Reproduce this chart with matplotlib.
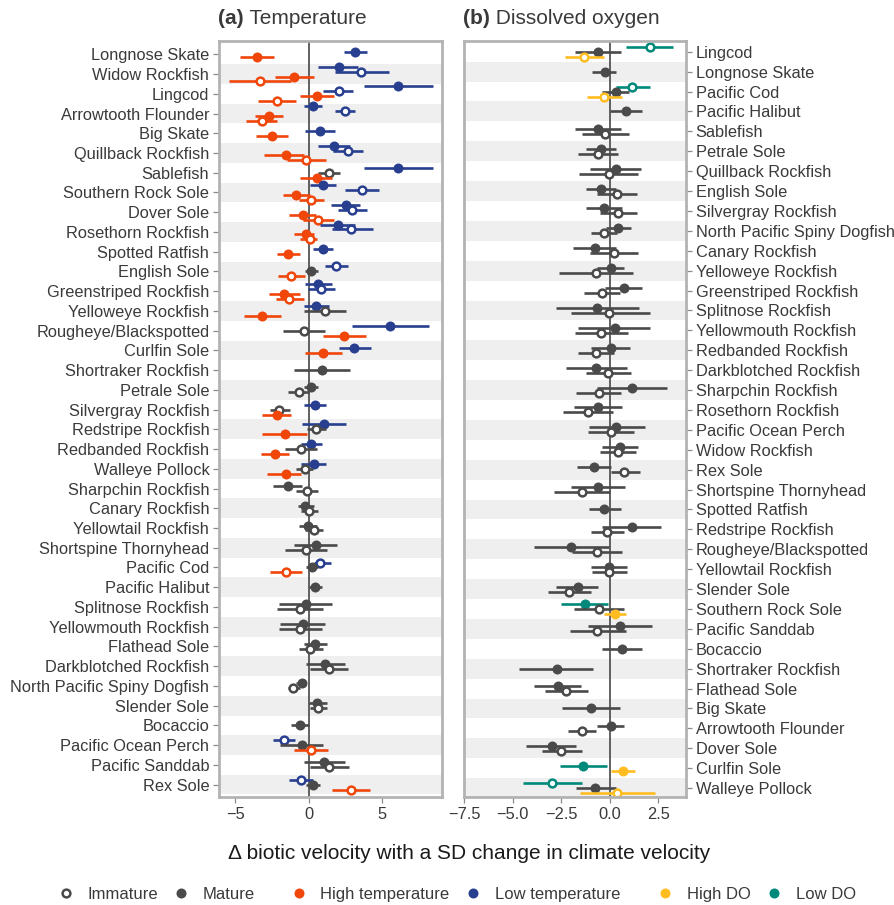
import matplotlib.pyplot as plt
from matplotlib.lines import Line2D

plt.rcParams['font.family'] = ['Liberation Sans', 'DejaVu Sans']

# colours
GREY = '#4a4a4a'
HIGH_T = '#f0460a'
LOW_T = '#283f8f'
HIGH_DO = '#ffbd21'
LOW_DO = '#00897b'
TEXT = '#3a3a3a'

# ---- (a) temperature: species order (top to bottom) ----
temp_species = ["Longnose Skate", "Widow Rockfish", "Lingcod", "Arrowtooth Flounder",
                "Big Skate", "Quillback Rockfish", "Sablefish", "Southern Rock Sole",
                "Dover Sole", "Rosethorn Rockfish", "Spotted Ratfish", "English Sole",
                "Greenstriped Rockfish", "Yelloweye Rockfish", "Rougheye/Blackspotted",
                "Curlfin Sole", "Shortraker Rockfish", "Petrale Sole", "Silvergray Rockfish",
                "Redstripe Rockfish", "Redbanded Rockfish", "Walleye Pollock",
                "Sharpchin Rockfish", "Canary Rockfish", "Yellowtail Rockfish",
                "Shortspine Thornyhead", "Pacific Cod", "Pacific Halibut",
                "Splitnose Rockfish", "Yellowmouth Rockfish", "Flathead Sole",
                "Darkblotched Rockfish", "North Pacific Spiny Dogfish", "Slender Sole",
                "Bocaccio", "Pacific Ocean Perch", "Pacific Sanddab", "Rex Sole"]

# species: (estimate, lower, upper)
temp_grey_mature = {
    "English Sole": (0.18, -0.27, 0.68), "Shortraker Rockfish": (0.91, -0.98, 2.85),
    "Petrale Sole": (0.16, -0.29, 0.68), "Sharpchin Rockfish": (-1.41, -2.41, -0.45),
    "Canary Rockfish": (-0.23, -0.75, 0.34), "Yellowtail Rockfish": (-0.05, -0.64, 0.57),
    "Shortspine Thornyhead": (0.5, -0.98, 1.94), "Pacific Cod": (0.23, -0.2, 0.68),
    "Pacific Halibut": (0.43, 0.0, 0.91), "Splitnose Rockfish": (-0.18, -1.98, 1.62),
    "Yellowmouth Rockfish": (-0.38, -1.93, 1.14), "Flathead Sole": (0.41, -0.34, 1.25),
    "Darkblotched Rockfish": (1.14, -0.16, 2.51),
    "North Pacific Spiny Dogfish": (-0.45, -0.82, -0.18),
    "Slender Sole": (0.57, 0.0, 1.25), "Bocaccio": (-0.61, -1.18, 0.0),
    "Pacific Ocean Perch": (-0.43, -1.93, 0.98), "Pacific Sanddab": (1.07, -0.34, 2.51),
    "Rex Sole": (0.3, -0.2, 0.75)}
temp_grey_immature = {
    "Sablefish": (1.39, 0.68, 2.17), "Yelloweye Rockfish": (1.14, -0.29, 2.58),
    "Rougheye/Blackspotted": (-0.34, -1.71, 1.14), "Petrale Sole": (-0.68, -1.39, 0.0),
    "Silvergray Rockfish": (-2.0, -2.62, -1.25), "Redstripe Rockfish": (0.5, -0.1, 1.2),
    "Redbanded Rockfish": (-0.5, -1.57, 0.57), "Walleye Pollock": (-0.23, -0.84, 0.3),
    "Sharpchin Rockfish": (-0.11, -0.84, 0.64), "Canary Rockfish": (0.05, -0.52, 0.64),
    "Yellowtail Rockfish": (0.34, -0.23, 0.98), "Shortspine Thornyhead": (-0.16, -1.59, 1.25),
    "Splitnose Rockfish": (-0.57, -2.14, 1.02), "Yellowmouth Rockfish": (-0.57, -1.98, 0.91),
    "Flathead Sole": (0.09, -0.68, 0.98), "Darkblotched Rockfish": (1.39, 0.11, 2.69),
    "North Pacific Spiny Dogfish": (-1.05, -1.43, -0.57), "Slender Sole": (0.64, 0.07, 1.25),
    "Pacific Sanddab": (1.37, 0.07, 2.78)}
temp_high_mature = {
    "Longnose Skate": (-3.5, -4.64, -2.36), "Widow Rockfish": (-0.98, -2.3, 0.37),
    "Lingcod": (0.59, -0.57, 1.71), "Arrowtooth Flounder": (-2.68, -3.62, -1.71),
    "Big Skate": (-2.48, -3.57, -1.39), "Quillback Rockfish": (-1.55, -3.0, -0.34),
    "Sablefish": (0.59, -0.57, 1.6), "Southern Rock Sole": (-0.84, -1.75, 0.07),
    "Dover Sole": (-0.38, -1.3, 0.53), "Rosethorn Rockfish": (-0.2, -0.96, 0.4),
    "Spotted Ratfish": (-1.37, -2.16, -0.57), "Greenstriped Rockfish": (-1.64, -2.7, -0.57),
    "Yelloweye Rockfish": (-3.14, -4.39, -1.87), "Rougheye/Blackspotted": (2.42, 1.02, 3.9),
    "Curlfin Sole": (1.0, -0.23, 2.25), "Silvergray Rockfish": (-2.16, -3.14, -1.16),
    "Redstripe Rockfish": (-1.59, -3.18, -0.11), "Redbanded Rockfish": (-2.27, -3.25, -1.32),
    "Walleye Pollock": (-1.52, -2.8, -0.5)}
temp_high_immature = {
    "Widow Rockfish": (-3.28, -5.4, -1.18), "Lingcod": (-2.16, -3.44, -0.82),
    "Arrowtooth Flounder": (-3.18, -4.26, -2.12), "Quillback Rockfish": (-0.18, -1.48, 1.16),
    "Southern Rock Sole": (0.18, -0.68, 1.07), "Dover Sole": (0.64, -0.38, 1.76),
    "Rosethorn Rockfish": (0.07, -0.6, 0.57), "English Sole": (-1.16, -2.09, -0.23),
    "Greenstriped Rockfish": (-1.32, -2.23, -0.29), "Pacific Cod": (-1.55, -2.62, -0.45),
    "Pacific Ocean Perch": (0.2, -0.96, 1.32), "Rex Sole": (2.9, 1.62, 4.21)}
temp_low_mature = {
    "Longnose Skate": (3.19, 2.39, 3.99), "Widow Rockfish": (2.05, 0.64, 3.4),
    "Lingcod": (6.1, 3.76, 8.47), "Arrowtooth Flounder": (0.3, -0.32, 0.91),
    "Big Skate": (0.78, -0.27, 1.82), "Quillback Rockfish": (1.73, 0.64, 2.85),
    "Sablefish": (6.1, 3.76, 8.47), "Southern Rock Sole": (1.0, 0.12, 1.87),
    "Dover Sole": (2.57, 1.55, 3.5), "Rosethorn Rockfish": (1.98, 0.8, 3.2),
    "Spotted Ratfish": (0.98, 0.3, 1.67), "Greenstriped Rockfish": (0.64, -0.23, 1.6),
    "Yelloweye Rockfish": (0.53, -0.29, 1.43), "Rougheye/Blackspotted": (5.53, 2.96, 8.2),
    "Curlfin Sole": (3.12, 2.08, 4.24), "Silvergray Rockfish": (0.43, -0.34, 1.21),
    "Redstripe Rockfish": (1.07, -0.45, 2.58), "Redbanded Rockfish": (0.16, -0.52, 0.91),
    "Walleye Pollock": (0.34, -0.5, 1.19)}
temp_low_immature = {
    "Widow Rockfish": (3.6, 1.8, 5.51), "Lingcod": (2.05, 1.02, 3.03),
    "Arrowtooth Flounder": (2.46, 1.78, 3.19), "Quillback Rockfish": (2.71, 1.69, 3.74),
    "Southern Rock Sole": (3.64, 2.46, 4.83), "Dover Sole": (2.96, 2.0, 3.99),
    "Rosethorn Rockfish": (2.92, 1.6, 4.37), "English Sole": (1.89, 1.14, 2.66),
    "Greenstriped Rockfish": (0.87, -0.04, 1.82), "Pacific Cod": (0.8, 0.34, 1.53),
    "Pacific Ocean Perch": (-1.66, -2.39, -0.91), "Rex Sole": (-0.48, -1.3, 0.3)}

# ---- (b) dissolved oxygen ----
do_species = ["Lingcod", "Longnose Skate", "Pacific Cod", "Pacific Halibut", "Sablefish",
              "Petrale Sole", "Quillback Rockfish", "English Sole", "Silvergray Rockfish",
              "North Pacific Spiny Dogfish", "Canary Rockfish", "Yelloweye Rockfish",
              "Greenstriped Rockfish", "Splitnose Rockfish", "Yellowmouth Rockfish",
              "Redbanded Rockfish", "Darkblotched Rockfish", "Sharpchin Rockfish",
              "Rosethorn Rockfish", "Pacific Ocean Perch", "Widow Rockfish", "Rex Sole",
              "Shortspine Thornyhead", "Spotted Ratfish", "Redstripe Rockfish",
              "Rougheye/Blackspotted", "Yellowtail Rockfish", "Slender Sole",
              "Southern Rock Sole", "Pacific Sanddab", "Bocaccio", "Shortraker Rockfish",
              "Flathead Sole", "Big Skate", "Arrowtooth Flounder", "Dover Sole",
              "Curlfin Sole", "Walleye Pollock"]

do_grey_mature = {
    "Lingcod": (-0.61, -1.8, 0.58), "Longnose Skate": (-0.27, -0.93, 0.34),
    "Pacific Cod": (0.31, -0.39, 1.0), "Pacific Halibut": (0.84, 0.03, 1.65),
    "Sablefish": (-0.61, -1.8, 0.58), "Petrale Sole": (-0.48, -1.24, 0.29),
    "Quillback Rockfish": (0.31, -1.04, 1.6), "English Sole": (-0.48, -1.24, 0.29),
    "Silvergray Rockfish": (-0.31, -1.24, 0.63),
    "North Pacific Spiny Dogfish": (0.41, -0.22, 1.09),
    "Canary Rockfish": (-0.77, -1.9, 0.34), "Yelloweye Rockfish": (0.04, -0.66, 0.75),
    "Greenstriped Rockfish": (0.73, -0.26, 1.65), "Splitnose Rockfish": (-0.64, -2.77, 1.5),
    "Yellowmouth Rockfish": (0.24, -1.65, 2.06), "Redbanded Rockfish": (0.04, -0.99, 1.04),
    "Darkblotched Rockfish": (-0.69, -2.26, 0.89), "Sharpchin Rockfish": (1.12, -0.66, 2.94),
    "Rosethorn Rockfish": (-0.61, -1.85, 0.63), "Pacific Ocean Perch": (0.33, -1.09, 1.82),
    "Widow Rockfish": (0.53, -0.42, 1.45), "Rex Sole": (-0.83, -1.7, 0.04),
    "Shortspine Thornyhead": (-0.61, -2.0, 0.8), "Spotted Ratfish": (-0.29, -1.09, 0.55),
    "Redstripe Rockfish": (1.12, -0.42, 2.64), "Rougheye/Blackspotted": (-2.0, -3.89, -0.07),
    "Yellowtail Rockfish": (-0.05, -0.99, 0.89), "Slender Sole": (-1.66, -2.77, -0.59),
    "Pacific Sanddab": (0.53, -1.1, 2.16), "Bocaccio": (0.63, -0.42, 1.67),
    "Shortraker Rockfish": (-2.74, -4.66, -0.85), "Flathead Sole": (-2.69, -3.89, -1.5),
    "Big Skate": (-0.95, -2.46, 0.53), "Arrowtooth Flounder": (0.04, -0.68, 0.75),
    "Dover Sole": (-2.99, -4.3, -1.75), "Walleye Pollock": (-0.75, -1.75, 0.29)}
do_grey_immature = {
    "Sablefish": (-0.26, -1.44, 1.0), "Petrale Sole": (-0.61, -1.65, 0.43),
    "Quillback Rockfish": (-0.07, -1.6, 1.45), "English Sole": (0.36, -0.68, 1.4),
    "Silvergray Rockfish": (0.43, -0.53, 1.4),
    "North Pacific Spiny Dogfish": (-0.32, -0.99, 0.38),
    "Canary Rockfish": (0.22, -1.04, 1.45), "Yelloweye Rockfish": (-0.71, -2.62, 1.19),
    "Greenstriped Rockfish": (-0.39, -1.34, 0.53), "Splitnose Rockfish": (-0.02, -2.0, 2.06),
    "Yellowmouth Rockfish": (-0.46, -1.8, 0.94), "Redbanded Rockfish": (-0.71, -1.65, 0.22),
    "Darkblotched Rockfish": (-0.1, -1.24, 1.09), "Sharpchin Rockfish": (-0.58, -1.75, 0.58),
    "Rosethorn Rockfish": (-1.12, -2.41, 0.17), "Pacific Ocean Perch": (0.04, -1.14, 1.24),
    "Widow Rockfish": (0.41, -0.53, 1.33), "Rex Sole": (0.75, 0.04, 1.55),
    "Shortspine Thornyhead": (-1.44, -2.87, -0.01), "Redstripe Rockfish": (-0.15, -0.99, 0.73),
    "Rougheye/Blackspotted": (-0.68, -1.95, 0.6), "Yellowtail Rockfish": (-0.03, -0.94, 0.86),
    "Slender Sole": (-2.1, -3.18, -0.98), "Southern Rock Sole": (-0.56, -1.84, 0.75),
    "Pacific Sanddab": (-0.64, -2.06, 0.85), "Flathead Sole": (-2.26, -3.33, -1.14),
    "Arrowtooth Flounder": (-1.44, -2.16, -0.73), "Dover Sole": (-2.5, -3.48, -1.44)}
do_high_mature = {
    "Southern Rock Sole": (0.24, -0.31, 0.84), "Curlfin Sole": (0.68, 0.07, 1.28)}
do_high_immature = {
    "Lingcod": (-1.33, -2.3, -0.31), "Pacific Cod": (-0.31, -1.2, 0.6),
    "Walleye Pollock": (0.36, -1.55, 2.3)}
do_low_mature = {
    "Southern Rock Sole": (-1.29, -2.52, -0.08), "Curlfin Sole": (-1.39, -2.57, -0.17)}
do_low_immature = {
    "Lingcod": (2.04, 0.85, 3.23), "Pacific Cod": (1.14, 0.29, 2.04),
    "Walleye Pollock": (-2.96, -4.47, -1.41)}


def draw_panel(ax, species, series, xlim, ylim, ticks, side):
    for i in range(len(species)):
        if i % 2 == 1:
            ax.axhspan(i - 0.5, i + 0.5, color='#efefef', lw=0, zorder=0)
    ax.axvline(0, color='#555555', lw=1.3, zorder=1)
    for i, sp in enumerate(species):
        items = []
        for rank, (data, col, mature) in enumerate(series):
            if sp in data:
                items.append((rank, data[sp], col, mature))
        n = len(items)
        for k, (rank, (est, lo, hi), col, mature) in enumerate(items):
            # small vertical dodge inside the row
            y = i + (k - (n - 1) / 2) * 0.25
            z = 2 + i * 0.01 + k * 0.001
            ax.plot([lo, hi], [y, y], color=col, lw=1.9, solid_capstyle='butt', zorder=z)
            if mature:
                ax.plot(est, y, 'o', color=col, ms=7.2, mew=0, zorder=z)
            else:
                ax.plot(est, y, 'o', mfc='white', mec=col, ms=5.6, mew=1.8, zorder=z)
    ax.set_xlim(*xlim)
    ax.set_ylim(*ylim)
    ax.set_xticks(ticks)
    ax.set_yticks(range(len(species)))
    ax.set_yticklabels(species)
    for s in ax.spines.values():
        s.set_color('#b3b3b3')
        s.set_linewidth(2)
    ax.tick_params(axis='both', colors='#8a8a8a', labelcolor=TEXT, labelsize=11.8,
                   length=4, width=0.9, pad=3)
    if side == 'right':
        ax.yaxis.tick_right()


fig = plt.figure(figsize=(8.95, 9.05), dpi=100)
ax1 = fig.add_axes([0.2447, 0.1193, 0.2492, 0.8354])
ax2 = fig.add_axes([0.5184, 0.1193, 0.2480, 0.8354])

# series order = dodge order inside a row (top to bottom)
temp_series = [(temp_low_mature, LOW_T, True), (temp_low_immature, LOW_T, False),
               (temp_grey_mature, GREY, True), (temp_grey_immature, GREY, False),
               (temp_high_mature, HIGH_T, True), (temp_high_immature, HIGH_T, False)]
do_series = [(do_low_mature, LOW_DO, True), (do_low_immature, LOW_DO, False),
             (do_grey_mature, GREY, True), (do_grey_immature, GREY, False),
             (do_high_mature, HIGH_DO, True), (do_high_immature, HIGH_DO, False)]

draw_panel(ax1, temp_species, temp_series, (-6.1, 9.1), (37.63, -0.675), [-5, 0, 5], 'left')
draw_panel(ax2, do_species, do_series, (-7.41, 3.91), (37.45, -0.54),
           [-7.5, -5, -2.5, 0, 2.5], 'right')

# panel titles: bold tag + plain name
for x, tag, name in [(218, "(a)", " Temperature"), (463, "(b)", " Dissolved oxygen")]:
    t = fig.text(x / 895, 1 - 18 / 905, tag, fontsize=15, weight='bold', color=TEXT,
                 va='center', ha='left')
    ax1.annotate(name, xy=(1, 0), xycoords=t, va='bottom', ha='left', fontsize=15,
                 color=TEXT, annotation_clip=False)

fig.text(469 / 895, 1 - 853 / 905, "Δ biotic velocity with a SD change in climate velocity",
         ha='center', va='center', fontsize=15, color='#1a1a1a')

# legends
def handle(col, filled):
    if filled:
        return Line2D([], [], ls='', marker='o', color=col, ms=7.2, mew=0)
    return Line2D([], [], ls='', marker='o', mfc='white', mec=col, ms=5.6, mew=1.8)

leg_kw = dict(loc='center', ncol=2, frameon=False, fontsize=12, handlelength=0.8,
              handletextpad=0.9, columnspacing=1.0, labelcolor=TEXT)
legends = [
    ([handle(GREY, False), handle(GREY, True)], ["Immature", "Mature"], 157),
    ([handle(HIGH_T, True), handle(LOW_T, True)], ["High temperature", "Low temperature"], 456),
    ([handle(HIGH_DO, True), handle(LOW_DO, True)], ["High DO", "Low DO"], 757),
]
for hs, labs, cx in legends:
    fig.legend(hs, labs, bbox_to_anchor=(cx / 895, 1 - 894 / 905), **leg_kw)

fig.savefig('out.png', dpi=100)
